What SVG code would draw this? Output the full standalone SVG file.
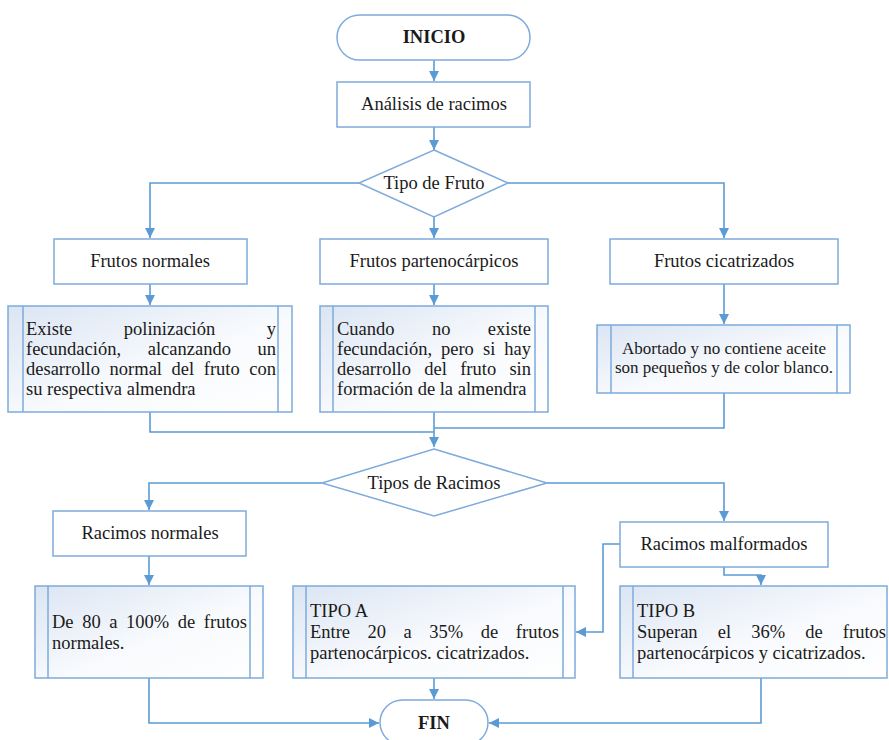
<svg xmlns="http://www.w3.org/2000/svg" width="889" height="740" viewBox="0 0 889 740">
<style>
.b{fill:#fff;stroke:#7eabdc;stroke-width:1.5}
.g{fill:url(#grad);stroke:#7eabdc;stroke-width:1.5}
.il{stroke:#7eabdc;stroke-width:1.5;fill:none}
.c{fill:none;stroke:#5b9bd5;stroke-width:1.6}
text{font-family:'Liberation Serif','Tinos','Times New Roman',serif;font-size:18.5px;fill:#1a1a1a}
.m{text-anchor:middle}
.e{text-anchor:end}
.bold{font-weight:bold;font-size:18.5px}
.sm{font-size:17px}
</style>
<defs>
<linearGradient id="grad" x1="0" y1="0" x2="1" y2="1">
<stop offset="0" stop-color="#dbe5f3"/>
<stop offset="0.55" stop-color="#f8fafd"/>
<stop offset="1" stop-color="#ffffff"/>
</linearGradient>
<marker id="ah" viewBox="0 0 10 10" refX="10" refY="5" markerWidth="10" markerHeight="10" markerUnits="userSpaceOnUse" orient="auto">
<path d="M0,0 L10,5 L0,10 z" fill="#5b9bd5"/>
</marker>
</defs>

<g id="connectors">
<path class="c" d="M434,60 V81" marker-end="url(#ah)"/>
<path class="c" d="M434,127 V150" marker-end="url(#ah)"/>
<path class="c" d="M359,183 H150 V238" marker-end="url(#ah)"/>
<path class="c" d="M434,217 V238" marker-end="url(#ah)"/>
<path class="c" d="M508,183 H724 V238" marker-end="url(#ah)"/>
<path class="c" d="M150,284 V305" marker-end="url(#ah)"/>
<path class="c" d="M434,284 V305" marker-end="url(#ah)"/>
<path class="c" d="M724,284 V324" marker-end="url(#ah)"/>
<path class="c" d="M150,412 V432 H434"/>
<path class="c" d="M724,393 V428 H434"/>
<path class="c" d="M434,412 V447" marker-end="url(#ah)"/>
<path class="c" d="M322,483 H149 V510" marker-end="url(#ah)"/>
<path class="c" d="M547,483 H724 V521" marker-end="url(#ah)"/>
<path class="c" d="M149,556 V585" marker-end="url(#ah)"/>
<path class="c" d="M724,567 V575 H761 V585" marker-end="url(#ah)"/>
<path class="c" d="M620,544 H603 V632 H576" marker-end="url(#ah)"/>
<path class="c" d="M434,678 V699" marker-end="url(#ah)"/>
<path class="c" d="M149,678 V723 H379" marker-end="url(#ah)"/>
<path class="c" d="M761,678 V723 H489" marker-end="url(#ah)"/>
</g>

<g id="inicio">
<rect class="b" x="337" y="15" width="193" height="45" rx="22.5"/>
<text class="m bold" x="434" y="43">INICIO</text>
</g>

<g id="analisis">
<rect class="b" x="337" y="82" width="193" height="45"/>
<text class="m" x="434" y="110">Análisis de racimos</text>
</g>

<g id="tipo-fruto">
<polygon class="b" points="434,150 508,183 434,217 359,183"/>
<text class="m" x="434" y="189">Tipo de Fruto</text>
</g>

<g id="frutos-normales">
<rect class="b" x="54" y="239" width="193" height="45"/>
<text class="m" x="150" y="267">Frutos normales</text>
</g>

<g id="frutos-partenocarpicos">
<rect class="b" x="320" y="239" width="228" height="45"/>
<text class="m" x="434" y="267">Frutos partenocárpicos</text>
</g>

<g id="frutos-cicatrizados">
<rect class="b" x="610" y="239" width="228" height="45"/>
<text class="m" x="724" y="267">Frutos cicatrizados</text>
</g>

<g id="existe">
<rect class="g" x="8" y="306" width="284" height="106"/>
<path class="il" d="M23,306 V412 M278,306 V412"/>
<text x="26" y="335">Existe</text>
<text x="123.8" y="335">polinización</text>
<text class="e" x="276" y="335">y</text>
<text x="26" y="355">fecundación,</text>
<text x="147.7" y="355">alcanzando</text>
<text class="e" x="276" y="355">un</text>
<text x="26" y="375">desarrollo</text>
<text x="109.6" y="375">normal</text>
<text x="171.6" y="375">del</text>
<text x="203.8" y="375">fruto</text>
<text class="e" x="276" y="375">con</text>
<text x="26" y="395">su respectiva almendra</text>
</g>

<g id="cuando">
<rect class="g" x="320" y="306" width="228" height="106"/>
<path class="il" d="M333,306 V412 M535,306 V412"/>
<text x="337" y="335">Cuando</text>
<text x="432" y="335">no</text>
<text class="e" x="531" y="335">existe</text>
<text x="337" y="355">fecundación,</text>
<text x="441" y="355">pero</text>
<text x="483" y="355">si</text>
<text class="e" x="531" y="355">hay</text>
<text x="337" y="375">desarrollo</text>
<text x="424.3" y="375">del</text>
<text x="460.2" y="375">fruto</text>
<text class="e" x="531" y="375">sin</text>
<text x="337" y="395">formación de la almendra</text>
</g>

<g id="abortado">
<rect class="g" x="597" y="325" width="253" height="68"/>
<path class="il" d="M611,325 V393 M837,325 V393"/>
<text class="m sm" x="724" y="354">Abortado y no contiene aceite</text>
<text class="m sm" x="724" y="373">son pequeños y de color blanco.</text>
</g>

<g id="tipos-racimos">
<polygon class="b" points="434,449 547,483 434,516 322,483"/>
<text class="m" x="434" y="489">Tipos de Racimos</text>
</g>

<g id="racimos-normales">
<rect class="b" x="53" y="511" width="193" height="45"/>
<text class="m" x="150" y="539">Racimos normales</text>
</g>

<g id="racimos-malformados">
<rect class="b" x="620" y="522" width="208" height="45"/>
<text class="m" x="724" y="550">Racimos malformados</text>
</g>

<g id="de80">
<rect class="g" x="35" y="586" width="228" height="92"/>
<path class="il" d="M48,586 V678 M250,586 V678"/>
<text x="52" y="628">De</text>
<text x="82.2" y="628">80</text>
<text x="109.2" y="628">a</text>
<text x="126" y="628">100%</text>
<text x="177.8" y="628">de</text>
<text class="e" x="247" y="628">frutos</text>
<text x="52" y="649">normales.</text>
</g>

<g id="tipo-a">
<rect class="g" x="293" y="586" width="282" height="92"/>
<path class="il" d="M306,586 V678 M563,586 V678"/>
<text x="310" y="617">TIPO A</text>
<text x="310" y="638">Entre</text>
<text x="367.6" y="638">20</text>
<text x="403.6" y="638">a</text>
<text x="429.3" y="638">35%</text>
<text x="480.7" y="638">de</text>
<text class="e" x="559" y="638">frutos</text>
<text x="310" y="659">partenocárpicos. cicatrizados.</text>
</g>

<g id="tipo-b">
<rect class="g" x="620" y="586" width="267" height="92"/>
<path class="il" d="M633,586 V678"/>
<text x="637" y="617">TIPO B</text>
<text x="637" y="638">Superan</text>
<text x="717.7" y="638">el</text>
<text x="751.2" y="638">36%</text>
<text x="805.2" y="638">de</text>
<text class="e" x="886" y="638">frutos</text>
<text x="637" y="659">partenocárpicos y cicatrizados.</text>
</g>

<g id="fin">
<rect class="b" x="380" y="700" width="108" height="45" rx="22.5"/>
<text class="m bold" x="434" y="729">FIN</text>
</g>
</svg>
